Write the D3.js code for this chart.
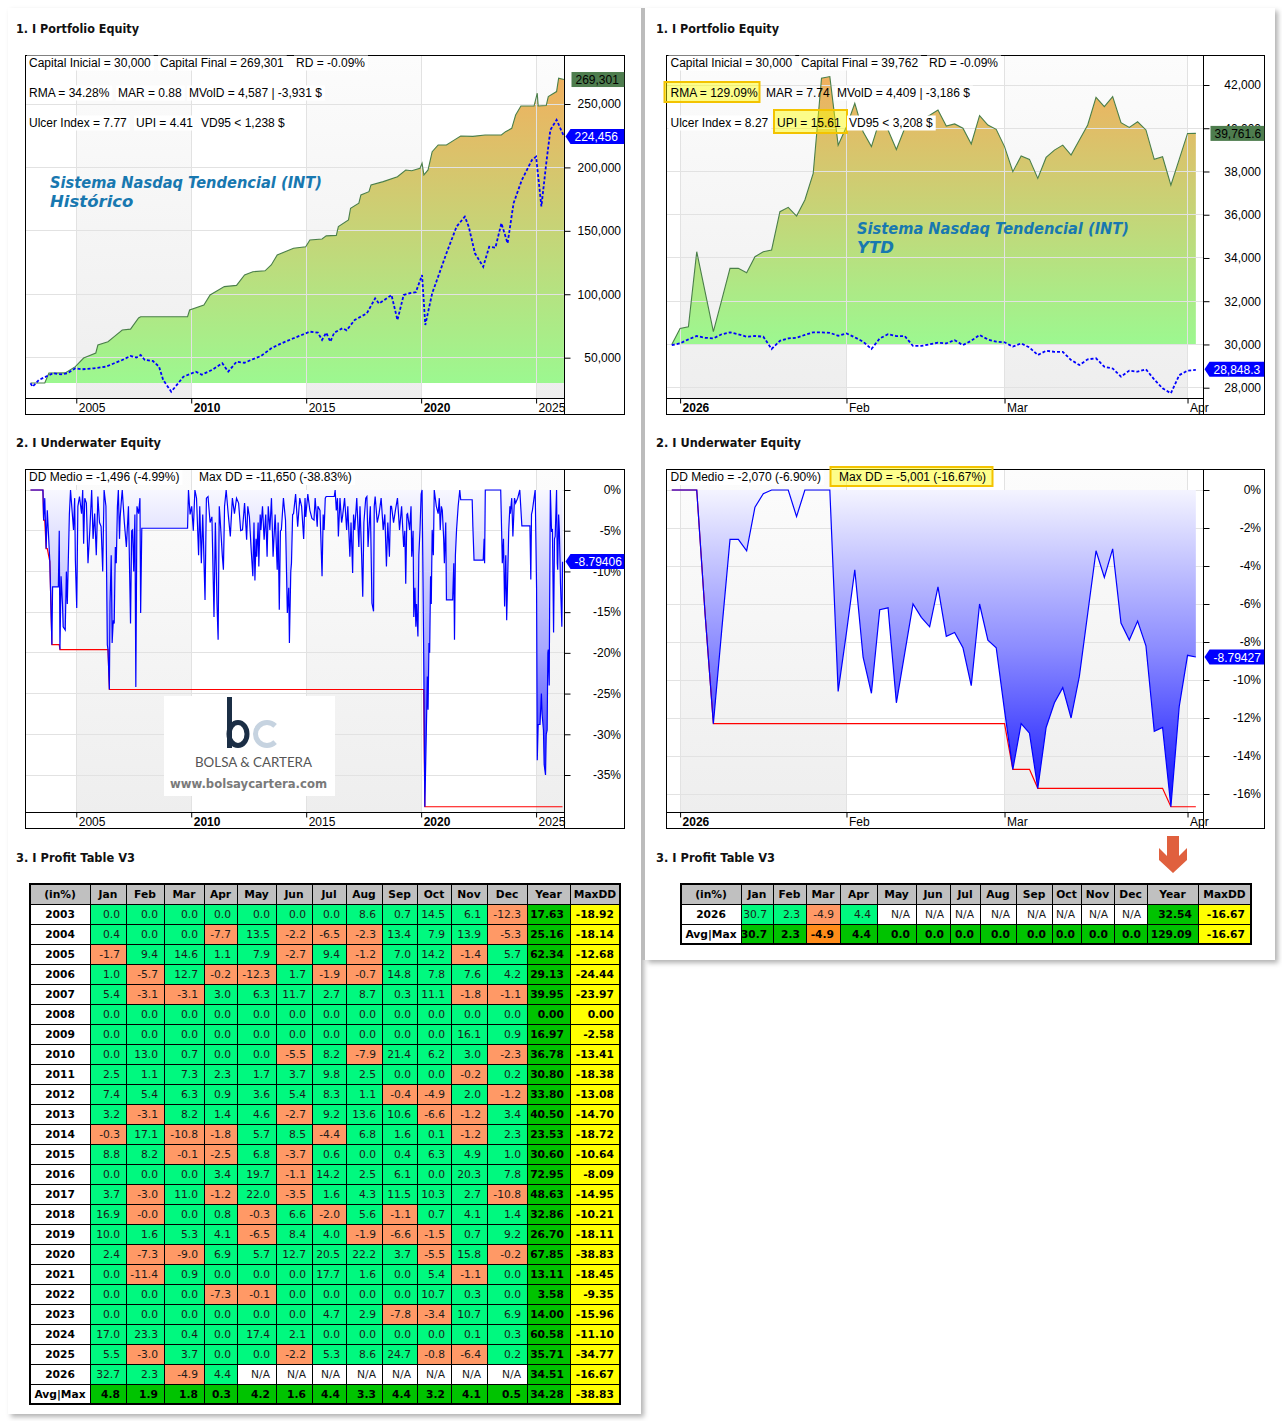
<!DOCTYPE html>
<html>
<head>
<meta charset="utf-8">
<script src="https://cdn.jsdelivr.net/npm/d3@7"></script>
<style>
  body { margin: 0; background: #fff; }
  svg text { font-family: "Liberation Sans", Arial, sans-serif; }
</style>
</head>
<body>
<svg id="page" width="1282" height="1421"></svg>
<script>
// ---------------- data ----------------
const startCapital = 30000;

// historical equity [decimal year, $]
const histEquity = [[2003.01,30000],[2003.63,30000],[2003.81,37900],[2004.52,38000],[2004.96,42900],[2005.32,49700],
  [2005.85,53700],[2005.94,60000],[2006.38,62600],[2006.65,66600],[2007.00,71800],[2007.36,72500],[2007.71,81300],
  [2007.80,82300],[2009.84,82300],[2009.93,87600],[2010.55,91500],[2010.82,99400],[2011.44,106000],[2011.97,107000],
  [2012.32,115200],[2012.68,117800],[2013.21,118500],[2013.48,123100],[2013.74,131000],[2014.45,136300],[2014.98,137500],
  [2015.16,142800],[2015.69,143600],[2015.87,146000],[2016.31,146400],[2016.40,153300],[2016.84,158600],[2016.93,167800],
  [2017.29,171800],[2017.38,178300],[2017.73,180900],[2017.82,186200],[2018.35,188800],[2018.97,192700],[2019.33,198000],
  [2019.59,197400],[2019.95,199400],[2020.04,203300],[2020.12,194100],[2020.30,198000],[2020.48,212400],[2020.74,217700],
  [2021.10,217700],[2021.45,221700],[2021.72,224800],[2022.25,224500],[2022.78,225600],[2023.49,225600],[2023.67,228200],
  [2023.94,230800],[2024.11,241300],[2024.34,248400],[2024.91,248400],[2025.05,258500],[2025.09,248400],[2025.44,248800],
  [2025.53,255800],[2025.89,259800],[2025.98,270300],[2026.21,269301]];

// historical buy & hold (dashed blue)
const histBench = [[2003.01,29800],[2003.10,27100],[2003.37,32400],[2003.99,37700],[2004.34,36900],[2004.61,37700],
  [2004.96,41600],[2005.23,40800],[2005.76,41600],[2006.29,42900],[2006.65,45600],[2007.00,48200],[2007.36,51300],
  [2007.62,50100],[2007.80,52100],[2007.98,48200],[2008.33,47400],[2008.60,42900],[2008.78,32400],[2009.13,23200],
  [2009.31,27100],[2009.66,35000],[2010.20,39000],[2010.46,36600],[2010.90,40300],[2011.35,45600],[2011.61,39000],
  [2011.97,46800],[2012.32,46000],[2012.77,49500],[2013.03,51300],[2013.48,57400],[2013.92,61300],[2014.45,65300],
  [2014.80,67900],[2015.16,70500],[2015.51,69700],[2015.69,64000],[2015.87,69700],[2016.05,62600],[2016.22,69700],
  [2016.58,73200],[2016.76,71600],[2017.11,79700],[2017.64,85000],[2018.00,96800],[2018.17,92600],[2018.71,99400],
  [2018.97,79700],[2019.24,99400],[2019.50,100800],[2019.77,101700],[2020.04,115200],[2020.18,75800],[2020.48,100800],
  [2020.74,113900],[2021.10,132300],[2021.54,153300],[2021.90,161200],[2022.07,153300],[2022.34,132300],[2022.70,121700],
  [2022.96,137500],[2023.23,136700],[2023.49,156000],[2023.76,140200],[2024.02,171800],[2024.38,190100],[2024.82,205900],
  [2025.00,208500],[2025.23,169200],[2025.44,203000],[2025.62,229600],[2025.89,237500],[2026.15,227000],[2026.21,224456]];

// historical underwater equity [decimal year, %]
const histDrawdown = [[2003.01,0],[2003.55,0],[2003.58,-3.7],[2003.63,-1],[2003.69,-7.2],[2003.74,-2.5],[2003.85,-8.8],
  [2003.94,-19.0],[2003.97,-11.9],[2004.22,-11.9],[2004.26,-5],[2004.29,-19.6],[2004.34,-10.6],[2004.40,-14],[2004.43,-16.8],
  [2004.52,-17.2],[2004.57,-10],[2004.61,-14],[2004.70,-3],[2004.75,0],[2004.88,-4.9],[2004.93,-1],[2004.96,-8.6],
  [2005.02,-14.5],[2005.07,-2],[2005.14,-0.8],[2005.23,-2.9],[2005.28,0],[2005.32,-6.6],[2005.37,-1],[2005.44,-1.6],
  [2005.51,-9],[2005.59,-4.9],[2005.67,0],[2005.73,-6],[2005.80,-2.9],[2005.87,-8],[2005.94,-0.8],[2006.01,-4],
  [2006.08,-4.5],[2006.15,-10],[2006.21,0],[2006.29,-2],[2006.35,-19],[2006.38,-19.6],[2006.44,-24.5],[2006.47,-13.9],
  [2006.52,-8],[2006.56,-18.8],[2006.61,-16],[2006.65,-16.4],[2006.70,-7],[2006.74,-9],[2006.79,-2],[2006.83,0],
  [2006.88,-6],[2006.91,-3.3],[2006.97,-1],[2007.00,0],[2007.09,-4],[2007.18,-7],[2007.27,-2],[2007.36,-16.4],
  [2007.41,-5],[2007.45,-4.9],[2007.50,-10],[2007.55,-3],[2007.59,-24.2],[2007.64,-2],[2007.71,-2.9],[2007.77,-1],
  [2007.80,-15.1],[2007.85,-4.7],[2009.84,-4.7],[2009.88,0],[2009.95,-3],[2010.02,-2],[2010.09,-5],[2010.16,0],
  [2010.23,-1],[2010.32,-8],[2010.37,-2],[2010.44,-9],[2010.50,-3],[2010.60,-13.5],[2010.66,-1],[2010.73,-0.8],
  [2010.82,-4],[2010.90,-3.3],[2010.99,-15.6],[2011.05,-4],[2011.12,-14],[2011.17,-18.4],[2011.22,-2],[2011.26,-3.7],
  [2011.35,-8],[2011.40,-9.8],[2011.45,-2],[2011.52,0],[2011.61,-3],[2011.70,-5.7],[2011.79,-1],[2011.88,-2.9],
  [2011.97,-1],[2012.06,-1.6],[2012.15,-5],[2012.23,-4.9],[2012.32,-1.6],[2012.41,-6.1],[2012.46,-2],[2012.53,-3.3],
  [2012.60,-7],[2012.68,-10.6],[2012.73,-4],[2012.77,-11.1],[2012.82,-6],[2012.85,-8.2],[2012.91,-4],[2012.94,-9.4],
  [2013.00,-3],[2013.03,-4.9],[2013.10,-2],[2013.17,-6.1],[2013.24,-3],[2013.30,-8.2],[2013.35,-2],[2013.42,-4.9],
  [2013.49,-1],[2013.56,-8.2],[2013.65,-3],[2013.74,-9.8],[2013.78,-4],[2013.83,-14.7],[2013.88,-5],[2013.92,-4.9],
  [2014.01,-1],[2014.10,-3.7],[2014.13,-8],[2014.18,-15.1],[2014.24,-12],[2014.27,-18.8],[2014.33,-10],[2014.36,-9],
  [2014.41,-3],[2014.45,-2.9],[2014.54,-0.5],[2014.63,-4.5],[2014.72,-1],[2014.80,-2],[2014.89,-6],[2014.95,-1],
  [2014.98,-3.3],[2015.07,-0.5],[2015.16,-2.5],[2015.25,-3.5],[2015.34,-3.7],[2015.39,-1],[2015.48,-4.5],[2015.51,-2],
  [2015.60,-2.5],[2015.69,-10.6],[2015.74,-3],[2015.78,-4.9],[2015.83,-1],[2015.87,-0.8],[2016.22,-0.8],[2016.26,0],
  [2016.31,-2.5],[2016.36,-1],[2016.40,-5.7],[2016.47,-1],[2016.54,-4],[2016.58,-3.3],[2016.67,-1],[2016.76,-4.9],
  [2016.81,-2],[2016.90,-8.2],[2016.95,-4],[2017.02,-10.2],[2017.06,-3],[2017.11,-4.9],[2017.20,-1],[2017.29,-7],
  [2017.34,-2],[2017.41,-8],[2017.46,-13.1],[2017.51,-4],[2017.59,-1],[2017.64,-0.8],[2017.69,-7],[2017.73,-4.9],
  [2017.79,-2],[2017.86,-13.9],[2017.93,-14.9],[2017.96,-2],[2018.00,-0.8],[2018.09,-4],[2018.17,-2.9],[2018.26,-1],
  [2018.35,-4.9],[2018.42,-3],[2018.49,-9.4],[2018.55,-4],[2018.62,-8.2],[2018.67,-2],[2018.71,-2],[2018.80,-4],
  [2018.88,-2.5],[2018.97,-1],[2019.06,-4.9],[2019.15,-2],[2019.24,-7],[2019.29,-5],[2019.33,-11.5],[2019.38,-3],
  [2019.41,-2.9],[2019.50,-4.9],[2019.56,-2],[2019.59,-8.2],[2019.65,-5],[2019.68,-15.6],[2019.73,-12],[2019.77,-16.8],
  [2019.80,-14],[2019.86,-18.0],[2019.90,-8],[2019.95,-4.9],[2020.00,-0.5],[2020.04,0],[2020.07,-8],[2020.11,-20],
  [2020.16,-38.9],[2020.21,-31.9],[2020.27,-22.9],[2020.30,-27],[2020.34,-18.8],[2020.37,-20],[2020.41,-10.6],
  [2020.44,-14],[2020.48,-4.9],[2020.53,-8],[2020.57,0],[2020.66,-2],[2020.74,-2.9],[2020.79,-1],[2020.83,-4.9],
  [2020.88,-2],[2020.92,-2.5],[2020.98,-6],[2021.01,-9.0],[2021.07,-4],[2021.10,-13.5],[2021.37,-13.5],[2021.42,-9],
  [2021.45,-18.4],[2021.49,-8],[2021.54,-4.9],[2021.61,-2],[2021.68,0],[2021.72,-1.2],[2022.22,-1.2],[2022.25,-4.5],
  [2022.30,-8.6],[2022.70,-8.6],[2022.74,-6],[2022.76,-9.0],[2022.79,0],[2023.46,0],[2023.50,-5],[2023.53,-9.0],
  [2023.58,-6],[2023.63,-14.3],[2023.68,-8],[2023.72,-16.0],[2023.77,-10],[2023.81,-4.9],[2023.86,-2],[2023.88,-2.9],
  [2023.94,-1],[2023.99,-5.7],[2024.06,-1],[2024.11,-1.6],[2024.20,-1],[2024.29,0],[2024.38,-4.4],[2024.73,-4.4],
  [2024.77,-11.0],[2024.80,-3],[2024.84,-2.5],[2024.91,-1],[2024.96,0],[2025.02,-12],[2025.05,-33.2],[2025.09,-28.8],
  [2025.17,-28.8],[2025.23,-25],[2025.26,-27.5],[2025.32,-29.5],[2025.35,-33.7],[2025.41,-35.0],[2025.44,-30],
  [2025.48,-29.5],[2025.51,-20],[2025.53,-19.6],[2025.57,-24],[2025.59,-13.6],[2025.62,0],[2025.67,-5],[2025.71,-4.9],
  [2025.76,-17.5],[2025.80,-6],[2025.83,-5.7],[2025.89,0],[2025.92,-9],[2025.94,-9.8],[2025.98,-3],[2026.01,-4.9],
  [2026.05,-10],[2026.06,-11.5],[2026.10,-15],[2026.12,-16.8],[2026.15,-8.8]];

// YTD series by trading bar (0 = first bar of 2026)
const ytdEquity = [[-1,30000],[0,30740],[1,30820],[2,34290],[3,32440],[4,30590],[5,32050],[6,33520],[7,33520],
  [8,33320],[9,34060],[10,34290],[11,34370],[12,36140],[13,36340],[14,35940],[15,36680],[16,37910],[17,42310],
  [18,42390],[19,39220],[20,40070],[21,41150],[22,39840],[23,39150],[24,40380],[25,39920],[26,39020],[27,40000],
  [28,40460],[29,40380],[30,40600],[31,40840],[32,40100],[33,40200],[34,40000],[35,39270],[36,40580],[37,40150],
  [38,39950],[39,39150],[40,37990],[41,38720],[42,38560],[43,37680],[44,38650],[45,38990],[46,39220],[47,38760],
  [48,39460],[49,40150],[50,41430],[51,41000],[52,41460],[53,40260],[54,40040],[55,40300],[56,39920],[57,38560],
  [58,38680],[59,37370],[60,38560],[61,39760],[62,39762]];

const ytdBench = [[-1,29970],[0,30050],[1,30235],[2,30390],[3,30310],[4,30280],[5,30470],[6,30560],[7,30470],
  [8,30360],[9,30390],[10,30360],[11,29790],[12,30170],[13,30280],[14,30310],[15,30440],[16,30560],[17,30560],
  [18,30540],[19,30400],[20,30510],[21,30330],[22,30130],[23,29790],[24,30280],[25,30470],[26,30390],[27,30390],
  [28,29930],[29,29930],[30,30010],[31,30080],[32,30050],[33,30200],[34,29970],[35,30170],[36,30440],[37,30230],
  [38,30130],[39,30100],[40,29900],[41,30050],[42,29860],[43,29510],[44,29710],[45,29660],[46,29660],[47,29280],
  [48,29050],[49,29310],[50,29360],[51,28970],[52,28890],[53,28510],[54,28790],[55,28740],[56,28850],[57,28380],
  [58,27970],[59,27740],[60,28580],[61,28790],[62,28820]];

const ytdDrawdown = [[-1,0],[0,0],[1,0],[2,0],[3,-6.5],[4,-12.3],[5,-7.4],[6,-2.6],[7,-2.6],[8,-3.2],[9,-0.9],
  [10,-0.2],[11,0],[12,0],[13,0],[14,-1.4],[15,0],[16,0],[17,0],[18,0],[19,-10.6],[20,-7.5],[21,-4.2],[22,-8.8],
  [23,-10.7],[24,-6.3],[25,-6.2],[26,-11.2],[27,-8.6],[28,-6.0],[29,-6.7],[30,-7.2],[31,-5.1],[32,-7.7],[33,-7.5],
  [34,-8.3],[35,-10.3],[36,-6.0],[37,-7.9],[38,-8.3],[39,-11.6],[40,-14.7],[41,-12.3],[42,-12.8],[43,-15.7],
  [44,-12.5],[45,-11.2],[46,-10.4],[47,-12.0],[48,-9.8],[49,-6.5],[50,-3.2],[51,-4.6],[52,-3.1],[53,-7.0],[54,-7.9],
  [55,-6.9],[56,-8.2],[57,-12.7],[58,-12.5],[59,-16.67],[60,-11.4],[61,-8.7],[62,-8.79]];

// axis ticks
const histYears = [2005, 2010, 2015, 2020, 2025];
const ytdBars = [0, 20, 39, 61];
const ytdBarLabels = ['2026', 'Feb', 'Mar', 'Apr'];
const histEquityTicks = [50000, 100000, 150000, 200000, 250000];
const ytdEquityTicks = [28000, 30000, 32000, 34000, 36000, 38000, 40000, 42000];
const histDDTicks = [0, -5, -10, -15, -20, -25, -30, -35];
const ytdDDTicks = [0, -2, -4, -6, -8, -10, -12, -14, -16];

// last values shown on the right axis
const histLastEquity = '269,301', histLastEquityVal = 269301;
const histLastBench = '224,456', histLastBenchVal = 224456;
const histLastDD = '-8.79406', histLastDDVal = -8.79406;
const ytdLastEquity = '39,761.6', ytdLastEquityVal = 39761.6;
const ytdLastBench = '28,848.3', ytdLastBenchVal = 28848.3;
const ytdLastDD = '-8.79427', ytdLastDDVal = -8.79427;

// statistics texts
const histStats = [['Capital Inicial = 30,000', 'Capital Final = 269,301', 'RD = -0.09%'],
  ['RMA = 34.28%', 'MAR = 0.88', 'MVolD = 4,587 | -3,931 $'],
  ['Ulcer Index = 7.77', 'UPI = 4.41', 'VD95 < 1,238 $']];
const ytdStats = [['Capital Inicial = 30,000', 'Capital Final = 39,762', 'RD = -0.09%'],
  ['RMA = 129.09%', 'MAR = 7.74', 'MVolD = 4,409 | -3,186 $'],
  ['Ulcer Index = 8.27', 'UPI = 15.61', 'VD95 < 3,208 $']];
const histDDStats = ['DD Medio = -1,496 (-4.99%)', 'Max DD = -11,650 (-38.83%)'];
const ytdDDStats = ['DD Medio = -2,070 (-6.90%)', 'Max DD = -5,001 (-16.67%)'];
const systemName = 'Sistema Nasdaq Tendencial (INT)';

// profit tables
const tableHeader = ['(in%)', 'Jan', 'Feb', 'Mar', 'Apr', 'May', 'Jun', 'Jul', 'Aug', 'Sep', 'Oct', 'Nov', 'Dec', 'Year', 'MaxDD'];
const tableYears = ['2003','2004','2005','2006','2007','2008','2009','2010','2011','2012','2013','2014',
  '2015','2016','2017','2018','2019','2020','2021','2022','2023','2024','2025','2026'];
const monthlyReturns = [
  ['0.0','0.0','0.0','0.0','0.0','0.0','0.0','8.6','0.7','14.5','6.1','-12.3'],
  ['0.4','0.0','0.0','-7.7','13.5','-2.2','-6.5','-2.3','13.4','7.9','13.9','-5.3'],
  ['-1.7','9.4','14.6','1.1','7.9','-2.7','9.4','-1.2','7.0','14.2','-1.4','5.7'],
  ['1.0','-5.7','12.7','-0.2','-12.3','1.7','-1.9','-0.7','14.8','7.8','7.6','4.2'],
  ['5.4','-3.1','-3.1','3.0','6.3','11.7','2.7','8.7','0.3','11.1','-1.8','-1.1'],
  ['0.0','0.0','0.0','0.0','0.0','0.0','0.0','0.0','0.0','0.0','0.0','0.0'],
  ['0.0','0.0','0.0','0.0','0.0','0.0','0.0','0.0','0.0','0.0','16.1','0.9'],
  ['0.0','13.0','0.7','0.0','0.0','-5.5','8.2','-7.9','21.4','6.2','3.0','-2.3'],
  ['2.5','1.1','7.3','2.3','1.7','3.7','9.8','2.5','0.0','0.0','-0.2','0.2'],
  ['7.4','5.4','6.3','0.9','3.6','5.4','8.3','1.1','-0.4','-4.9','2.0','-1.2'],
  ['3.2','-3.1','8.2','1.4','4.6','-2.7','9.2','13.6','10.6','-6.6','-1.2','3.4'],
  ['-0.3','17.1','-10.8','-1.8','5.7','8.5','-4.4','6.8','1.6','0.1','-1.2','2.3'],
  ['8.8','8.2','-0.1','-2.5','6.8','-3.7','0.6','0.0','0.4','6.3','4.9','1.0'],
  ['0.0','0.0','0.0','3.4','19.7','-1.1','14.2','2.5','6.1','0.0','20.3','7.8'],
  ['3.7','-3.0','11.0','-1.2','22.0','-3.5','1.6','4.3','11.5','10.3','2.7','-10.8'],
  ['16.9','-0.0','0.0','0.8','-0.3','6.6','-2.0','5.6','-1.1','0.7','4.1','1.4'],
  ['10.0','1.6','5.3','4.1','-6.5','8.4','4.0','-1.9','-6.6','-1.5','0.7','9.2'],
  ['2.4','-7.3','-9.0','6.9','5.7','12.7','20.5','22.2','3.7','-5.5','15.8','-0.2'],
  ['0.0','-11.4','0.9','0.0','0.0','0.0','17.7','1.6','0.0','5.4','-1.1','0.0'],
  ['0.0','0.0','0.0','-7.3','-0.1','0.0','0.0','0.0','0.0','10.7','0.3','0.0'],
  ['0.0','0.0','0.0','0.0','0.0','0.0','4.7','2.9','-7.8','-3.4','10.7','6.9'],
  ['17.0','23.3','0.4','0.0','17.4','2.1','0.0','0.0','0.0','0.0','0.1','0.3'],
  ['5.5','-3.0','3.7','0.0','0.0','-2.2','5.3','8.6','24.7','-0.8','-6.4','0.2'],
  ['32.7','2.3','-4.9','4.4','N/A','N/A','N/A','N/A','N/A','N/A','N/A','N/A']];
const yearReturns = ['17.63','25.16','62.34','29.13','39.95','0.00','16.97','36.78','30.80','33.80','40.50','23.53',
  '30.60','72.95','48.63','32.86','26.70','67.85','13.11','3.58','14.00','60.58','35.71','34.51'];
const yearMaxDD = ['-18.92','-18.14','-12.68','-24.44','-23.97','0.00','-2.58','-13.41','-18.38','-13.08','-14.70','-18.72',
  '-10.64','-8.09','-14.95','-10.21','-18.11','-38.83','-18.45','-9.35','-15.96','-11.10','-34.77','-16.67'];
const avgMonthly = ['4.8','1.9','1.8','0.3','4.2','1.6','4.4','3.3','4.4','3.2','4.1','0.5'];
const avgYear = '34.28', maxDDAll = '-38.83';

const ytdTableYear = '2026';
const ytdMonthly = ['30.7','2.3','-4.9','4.4','N/A','N/A','N/A','N/A','N/A','N/A','N/A','N/A'];
const ytdYearReturn = '32.54', ytdYearMaxDD = '-16.67';
const ytdAvgMonthly = ['30.7','2.3','-4.9','4.4','0.0','0.0','0.0','0.0','0.0','0.0','0.0','0.0'];
const ytdAvgYear = '129.09', ytdMaxDDAll = '-16.67';

// ---------------- drawing ----------------
const FONT = '"Liberation Sans", Arial, sans-serif';
const TFONT = '"DejaVu Sans", Verdana, sans-serif';
const svg = d3.select('#page');
const defs = svg.append('defs');

function gradient(id, stops, y1, y2, user) {
  const gr = defs.append('linearGradient').attr('id', id)
    .attr('x1', 0).attr('x2', 0).attr('y1', y1).attr('y2', y2);
  if (user) gr.attr('gradientUnits', 'userSpaceOnUse');
  stops.forEach(s => gr.append('stop').attr('offset', s[0]).attr('stop-color', s[1]));
}
gradient('bandGrad', [[0, '#fcfcfc'], [1, '#eeeeee']], 0, 1, false);

const sh = defs.append('filter').attr('id', 'shadow').attr('x', '-3%').attr('y', '-3%').attr('width', '108%').attr('height', '108%');
sh.append('feDropShadow').attr('dx', 3).attr('dy', 3).attr('stdDeviation', 2.5)
  .attr('flood-color', '#000').attr('flood-opacity', 0.3);

// panels
svg.append('rect').attr('x', 8).attr('y', 8).attr('width', 633).attr('height', 1406)
  .attr('fill', '#fff').attr('filter', 'url(#shadow)');
svg.append('rect').attr('x', 645).attr('y', 8).attr('width', 630).attr('height', 952)
  .attr('fill', '#fff').attr('filter', 'url(#shadow)');
svg.append('rect').attr('x', 641).attr('y', 8).attr('width', 4).attr('height', 952).attr('fill', '#bcbcbc');

function sectionTitle(x, y, t, w) {
  svg.append('text').attr('x', x).attr('y', y).attr('textLength', w).attr('lengthAdjust', 'spacingAndGlyphs').text(t)
    .style('font-family', TFONT).style('font-weight', 'bold').style('font-size', '12.5px').attr('fill', '#111');
}
[16, 656].forEach(x => {
  sectionTitle(x, 33, '1. I Portfolio Equity', 123);
  sectionTitle(x, 447, '2. I Underwater Equity', 145);
  sectionTitle(x, 862, '3. I Profit Table V3', 119);
});

function gridLines(o) {
  const gg = o.g.append('g').attr('shape-rendering', 'crispEdges');
  o.yTicks.forEach(v => gg.append('line').attr('x1', o.fx).attr('x2', o.plotR)
    .attr('y1', o.y(v)).attr('y2', o.y(v)).attr('stroke', '#e2e2e2'));
  o.xTicks.forEach(v => gg.append('line').attr('x1', o.x(v)).attr('x2', o.x(v))
    .attr('y1', o.fy).attr('y2', o.plotB).attr('stroke', '#e2e2e2'));
}

function startChart(o) {
  o.g = svg.append('g');
  defs.append('clipPath').attr('id', o.id + '-clip').append('rect')
    .attr('x', o.fx).attr('y', o.fy).attr('width', o.plotR - o.fx).attr('height', o.plotB - o.fy);
  defs.append('clipPath').attr('id', o.id + '-fclip').append('rect')
    .attr('x', o.fx).attr('y', o.fy).attr('width', o.fw).attr('height', o.fh);
  o.g.append('rect').attr('x', o.fx).attr('y', o.fy).attr('width', o.fw).attr('height', o.fh).attr('fill', '#fff');
  const dom = o.x.domain();
  for (let i = 0; i < o.xTicks.length; i += 2) {
    const a = o.xTicks[i], b = i + 1 < o.xTicks.length ? o.xTicks[i + 1] : dom[1];
    o.g.append('rect').attr('x', o.x(a)).attr('y', o.fy).attr('width', o.x(b) - o.x(a))
      .attr('height', o.plotB - o.fy).attr('fill', 'url(#bandGrad)');
  }
  if (!o.gridTop) gridLines(o);
  o.data = svg.append('g').attr('clip-path', `url(#${o.id}-clip)`);
  return o;
}

function finishChart(o) {
  const g = svg.append('g');
  // x axis
  const xa = d3.axisBottom(o.x).tickValues(o.xTicks).tickSize(5).tickSizeOuter(0)
    .tickFormat((d, i) => o.xLabels[i]);
  const xg = g.append('g').attr('transform', `translate(0,${o.plotB})`).call(xa)
    .attr('font-family', FONT).attr('font-size', 12);
  xg.select('.domain').remove();
  xg.selectAll('.tick line').attr('stroke', '#000');
  xg.selectAll('.tick text').attr('x', 2).attr('y', 4.5).attr('text-anchor', 'start').attr('fill', '#000')
    .style('font-weight', (d, i) => o.boldTick(d, i) ? 'bold' : 'normal');
  // y axis
  const ya = d3.axisRight(o.y).tickValues(o.yTicks).tickSize(6).tickSizeOuter(0).tickFormat(o.yFmt);
  const yg = g.append('g').attr('transform', `translate(${o.plotR},0)`).call(ya)
    .attr('font-family', FONT).attr('font-size', 12);
  yg.select('.domain').remove();
  yg.selectAll('.tick line').attr('stroke', '#000');
  yg.selectAll('.tick text').attr('x', o.labelR - o.plotR).attr('text-anchor', 'end').attr('fill', '#000');
  // frame lines
  const fg = g.append('g').attr('shape-rendering', 'crispEdges').attr('fill', 'none').attr('stroke', '#000');
  fg.append('line').attr('x1', o.fx).attr('x2', o.plotR).attr('y1', o.plotB).attr('y2', o.plotB);
  fg.append('line').attr('x1', o.plotR).attr('x2', o.plotR).attr('y1', o.fy).attr('y2', o.fy + o.fh);
  fg.append('rect').attr('x', o.fx).attr('y', o.fy).attr('width', o.fw).attr('height', o.fh);
}

function valueTag(o, v, txt, fill, color, arrow) {
  const yc = o.y(v), h = 15, x0 = o.plotR + (arrow ? 6 : 7), x1 = o.fx + o.fw;
  const g = svg.append('g').attr('clip-path', `url(#${o.id}-fclip)`);
  if (arrow) {
    g.append('polygon').attr('fill', fill).attr('points',
      [[o.plotR + 1, yc], [x0, yc - h / 2], [x1, yc - h / 2], [x1, yc + h / 2], [x0, yc + h / 2]].map(p => p.join(',')).join(' '));
  } else {
    g.append('rect').attr('x', x0).attr('y', yc - h / 2).attr('width', x1 - x0).attr('height', h).attr('fill', fill);
  }
  g.append('text').attr('x', x0 + 4).attr('y', yc + 4.5).attr('fill', color)
    .style('font-size', '12px').text(txt);
}

function statText(x, y, t, bg) {
  const tx = svg.append('text').attr('x', x).attr('y', y).attr('fill', '#000').style('font-size', '12px').text(t);
  if (bg) {
    const w = tx.node().getComputedTextLength();
    svg.insert('rect', () => tx.node()).attr('x', x - 2).attr('y', y - 11).attr('width', w + 5).attr('height', 15).attr('fill', '#fff');
  }
  return tx;
}
function highlight(x, y, w, h) {
  svg.append('rect').attr('x', x).attr('y', y).attr('width', w).attr('height', h)
    .attr('fill', 'rgba(255,255,0,0.45)').attr('stroke', '#f3c300').attr('stroke-width', 2);
}

function nameLabel(x, y1, y2, sub) {
  const st = s => s.style('font-family', TFONT).style('font-weight', 'bold').style('font-style', 'italic')
    .style('font-size', '16.5px').attr('fill', '#1878b0');
  st(svg.append('text').attr('x', x).attr('y', y1).attr('textLength', 272).attr('lengthAdjust', 'spacingAndGlyphs').text(systemName));
  st(svg.append('text').attr('x', x).attr('y', y2).text(sub));
}

function equityChart(o, eq, bench) {
  startChart(o);
  const gid = o.id + '-eqgrad';
  gradient(gid, [[0, '#f0b05e'], [1, '#9cf890']], o.y(d3.max(eq, d => d[1])), o.y(startCapital), true);
  o.data.append('path').datum(eq).attr('fill', `url(#${gid})`)
    .attr('d', d3.area().x(d => o.x(d[0])).y0(o.y(startCapital)).y1(d => o.y(d[1])));
  // grid goes over the fill but under the lines
  o.g = o.data;
  gridLines(o);
  o.data.append('path').datum(eq).attr('fill', 'none').attr('stroke', '#4a7f4a').attr('stroke-width', 1.1)
    .attr('d', d3.line().x(d => o.x(d[0])).y(d => o.y(d[1])));
  o.data.append('path').datum(bench).attr('fill', 'none').attr('stroke', '#0000ff').attr('stroke-width', 1.8)
    .attr('stroke-dasharray', '3,2').attr('d', d3.line().x(d => o.x(d[0])).y(d => o.y(d[1])));
  finishChart(o);
}

function drawdownChart(o, dd) {
  startChart(o);
  const gid = o.id + '-ddgrad';
  gradient(gid, o.ddStops, o.y(0), o.y(d3.min(dd, d => d[1])), true);
  o.data.append('path').datum(dd).attr('fill', `url(#${gid})`)
    .attr('d', d3.area().x(d => o.x(d[0])).y0(o.y(0)).y1(d => o.y(d[1])));
  let m = 0;
  const maxDD = dd.map(d => { m = Math.min(m, d[1]); return [d[0], m]; });
  o.data.append('path').datum(maxDD).attr('fill', 'none').attr('stroke', '#ff0000').attr('stroke-width', 1.2)
    .attr('d', d3.line().x(d => o.x(d[0])).y(d => o.y(d[1])));
  o.data.append('path').datum(dd).attr('fill', 'none').attr('stroke', '#0000ff').attr('stroke-width', 1.2)
    .attr('d', d3.line().x(d => o.x(d[0])).y(d => o.y(d[1])));
  finishChart(o);
}

const histX = d3.scaleLinear().domain([2002.77, 2026.235]).range([25, 564.5]);
const ytdX = d3.scaleLinear().domain([-1.635, 62.92]).range([666.5, 1203.5]);

// ---- historical equity
const hEq = { id: 'heq', fx: 25.5, fy: 55.5, fw: 599, fh: 358.5, plotR: 564.5, plotB: 398.5, labelR: 621,
  x: histX, y: d3.scaleLinear().domain([0, 250000]).range([421.1, 104]),
  xTicks: histYears, xLabels: histYears.map(String), boldTick: d => d % 10 === 0,
  yTicks: histEquityTicks, yFmt: d3.format(','), gridTop: true };
equityChart(hEq, histEquity, histBench);
valueTag(hEq, histLastEquityVal, histLastEquity, '#4e7d4e', '#000', false);
valueTag(hEq, histLastBenchVal, histLastBench, '#0000ff', '#fff', true);
const hsx = [[29, 160, 296], [29, 118, 189], [29, 136, 201]];
histStats.forEach((row, r) => row.forEach((t, c) => statText(hsx[r][c], 66.5 + r * 30, t, true)));
nameLabel(50, 188, 207, 'Histórico');

// ---- YTD equity
const yEq = { id: 'yeq', fx: 666.5, fy: 55.5, fw: 598, fh: 358.5, plotR: 1203.5, plotB: 398.5, labelR: 1261,
  x: ytdX, y: d3.scaleLinear().domain([28000, 42000]).range([387.7, 85]),
  xTicks: ytdBars, xLabels: ytdBarLabels, boldTick: (d, i) => i === 0,
  yTicks: ytdEquityTicks, yFmt: d3.format(','), gridTop: true };
equityChart(yEq, ytdEquity, ytdBench);
valueTag(yEq, ytdLastEquityVal, ytdLastEquity, '#4e7d4e', '#000', false);
valueTag(yEq, ytdLastBenchVal, ytdLastBench, '#0000ff', '#fff', true);
const ysx = [[670.5, 801, 929], [670.5, 766, 837], [670.5, 777, 849]];
const ybg = [[true, true, true], [false, false, true], [true, false, true]];
highlight(664.5, 82, 95, 20);
highlight(774, 110, 73, 23);
ytdStats.forEach((row, r) => row.forEach((t, c) => statText(ysx[r][c], 66.5 + r * 30, t, ybg[r][c])));
nameLabel(857, 234, 253, 'YTD');

// ---- historical underwater
const hDD = { id: 'hdd', fx: 25.5, fy: 469.5, fw: 599, fh: 358.5, plotR: 564.5, plotB: 812.5, labelR: 621,
  x: histX, y: d3.scaleLinear().domain([-35, 0]).range([775, 490]),
  xTicks: histYears, xLabels: histYears.map(String), boldTick: d => d % 10 === 0,
  yTicks: histDDTicks, yFmt: d => d + '%', gridTop: false,
  ddStops: [[0, '#f8f8ff'], [0.5, '#a8a8ff'], [1, '#1010ff']] };
drawdownChart(hDD, histDrawdown);
valueTag(hDD, histLastDDVal, histLastDD, '#0000ff', '#fff', true);
statText(29, 481, histDDStats[0], true);
statText(199, 481, histDDStats[1], true);

// logo
const logo = svg.append('g');
logo.append('rect').attr('x', 164).attr('y', 696).attr('width', 171).attr('height', 100).attr('fill', '#fff');
logo.append('line').attr('x1', 229.5).attr('x2', 229.5).attr('y1', 697).attr('y2', 748)
  .attr('stroke', '#1b2e45').attr('stroke-width', 5);
logo.append('ellipse').attr('cx', 238).attr('cy', 734).attr('rx', 9).attr('ry', 11.5)
  .attr('fill', 'none').attr('stroke', '#1b2e45').attr('stroke-width', 5);
logo.append('path').attr('d', d3.arc().innerRadius(9).outerRadius(14).startAngle(Math.PI * 0.25).endAngle(Math.PI * 1.75)())
  .attr('transform', 'translate(267,734) rotate(90)').attr('fill', '#c6d3e0');
logo.append('text').attr('x', 195).attr('y', 767).attr('textLength', 117).attr('lengthAdjust', 'spacingAndGlyphs')
  .style('font-family', 'Lato, "Open Sans", sans-serif').style('font-size', '14px').attr('fill', '#555').text('BOLSA & CARTERA');
logo.append('text').attr('x', 170).attr('y', 788).attr('textLength', 157).attr('lengthAdjust', 'spacingAndGlyphs')
  .style('font-family', TFONT).style('font-weight', 'bold').style('font-size', '12px').attr('fill', '#7a7a7a')
  .text('www.bolsaycartera.com');

// ---- YTD underwater
const yDD = { id: 'ydd', fx: 666.5, fy: 469.5, fw: 598, fh: 358.5, plotR: 1203.5, plotB: 812.5, labelR: 1261,
  x: ytdX, y: d3.scaleLinear().domain([-16, 0]).range([794, 490]),
  xTicks: ytdBars, xLabels: ytdBarLabels, boldTick: (d, i) => i === 0,
  yTicks: ytdDDTicks, yFmt: d => d + '%', gridTop: false,
  ddStops: [[0, '#f4f4ff'], [0.5, '#8c8cff'], [1, '#1010ff']] };
drawdownChart(yDD, ytdDrawdown);
valueTag(yDD, ytdLastDDVal, ytdLastDD, '#0000ff', '#fff', true);
statText(670.5, 481, ytdDDStats[0], true);
highlight(830.5, 467, 162, 19);
statText(839, 481, ytdDDStats[1], false);

// ---- profit tables
const GREEN = '#00f97f', SALMON = '#ff9966', DKGREEN = '#00c300', YELLOW = '#ffff00', HEAD = '#c0c0c0';
function monthFill(v) { return v === 'N/A' ? '#fff' : (v.startsWith('-') ? SALMON : GREEN); }
function avgFill(v) { return v.startsWith('-') ? '#ff8c1a' : DKGREEN; }

function drawTable(cols, top, rows) {
  const g = svg.append('g').attr('shape-rendering', 'crispEdges');
  const tg = svg.append('g');
  rows.forEach((row, r) => {
    const y = top + r * 20;
    row.forEach((c, i) => {
      g.append('rect').attr('x', cols[i]).attr('y', y).attr('width', cols[i + 1] - cols[i]).attr('height', 20)
        .attr('fill', c.fill).attr('stroke', '#000').attr('stroke-width', 1);
      const mid = c.align === 'middle';
      const cx = mid ? (cols[i] + cols[i + 1]) / 2 : cols[i + 1] - 6;
      const t = tg.append('text').attr('x', cx).attr('y', y + 14).attr('text-anchor', mid ? 'middle' : 'end')
        .style('font-family', TFONT).style('font-size', '10.7px').style('font-weight', c.bold ? 'bold' : 'normal')
        .attr('fill', c.bold ? '#000' : '#1c1c1c').text(c.t);
      const room = cols[i + 1] - cols[i] - 6;
      if (t.node().getComputedTextLength() > room) t.attr('textLength', room).attr('lengthAdjust', 'spacingAndGlyphs');
    });
  });
  const last = top + rows.length * 20;
  g.append('rect').attr('x', cols[0]).attr('y', top).attr('width', cols[cols.length - 1] - cols[0])
    .attr('height', last - top).attr('fill', 'none').attr('stroke', '#000').attr('stroke-width', 1.5);
}
function headerRow() { return tableHeader.map(t => ({ t, fill: HEAD, bold: true, align: 'middle' })); }
function yearRow(label, months, yr, mdd) {
  return [{ t: label, fill: '#fff', bold: true, align: 'middle' }]
    .concat(months.map(v => ({ t: v, fill: monthFill(v), bold: false, align: 'end' })))
    .concat([{ t: yr, fill: DKGREEN, bold: true, align: 'end' }, { t: mdd, fill: YELLOW, bold: true, align: 'end' }]);
}
function avgRow(months, yr, mdd) {
  return [{ t: 'Avg|Max', fill: '#fff', bold: true, align: 'middle' }]
    .concat(months.map(v => ({ t: v, fill: avgFill(v), bold: true, align: 'end' })))
    .concat([{ t: yr, fill: DKGREEN, bold: true, align: 'end' }, { t: mdd, fill: YELLOW, bold: true, align: 'end' }]);
}

const leftCols = [30, 90, 126, 164, 204, 237, 276, 312, 346, 382, 417, 451, 487, 527, 570, 620];
const leftRows = [headerRow()]
  .concat(tableYears.map((y, i) => yearRow(y, monthlyReturns[i], yearReturns[i], yearMaxDD[i])))
  .concat([avgRow(avgMonthly, avgYear, maxDDAll)]);
drawTable(leftCols, 884, leftRows);

const rightCols = [681, 741, 773, 806, 840, 877, 916, 950, 980, 1016, 1052, 1081, 1114, 1147, 1198, 1251];
drawTable(rightCols, 884, [headerRow(), yearRow(ytdTableYear, ytdMonthly, ytdYearReturn, ytdYearMaxDD),
  avgRow(ytdAvgMonthly, ytdAvgYear, ytdMaxDDAll)]);

// arrow pointing at the YTD year column
svg.append('polygon').attr('fill', '#e0603e').attr('points',
  '1167,836 1179,836 1179,856 1187,848 1187,860 1173,873 1159,860 1159,848 1167,856');
</script>
</body>
</html>
